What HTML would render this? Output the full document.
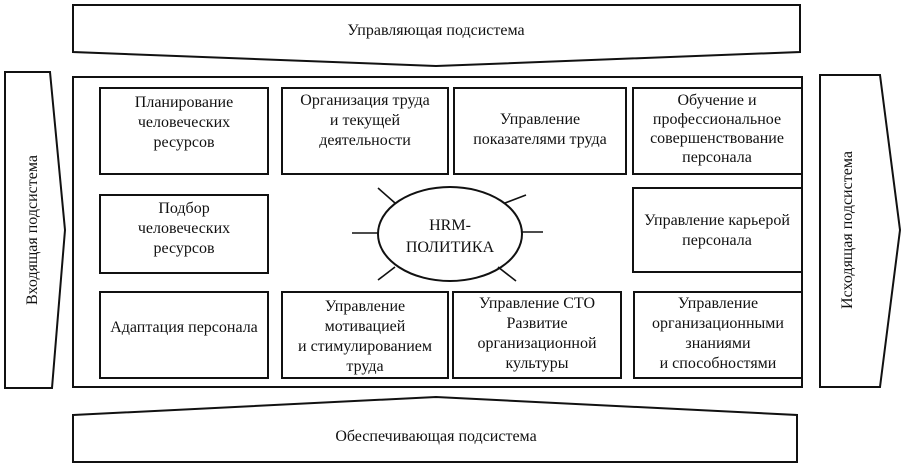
<!DOCTYPE html><html><head><meta charset="utf-8"><style>
body{margin:0;background:#fff;}
svg{display:block}
text{font-family:"Liberation Serif",serif;font-size:16px;fill:#111;text-anchor:middle}
</style></head><body>
<svg width="902" height="465" viewBox="0 0 902 465" stroke="#111" stroke-width="2" fill="none">
<polygon points="73,5 800,5 800,52 436,66 73,52"/>
<polygon points="73,415 436,397 797,415 797,462 73,462"/>
<polygon points="5,72 50,72 65,230 52,388 5,388"/>
<polygon points="820,75 880,75 900,230 880,387 820,387"/>
<rect x="73" y="77" width="729" height="310"/>
<rect x="100" y="88" width="168" height="86"/>
<rect x="282" y="88" width="166" height="86"/>
<rect x="454" y="88" width="172" height="86"/>
<rect x="633" y="88" width="169" height="86"/>
<rect x="100" y="195" width="168" height="78"/>
<rect x="633" y="188" width="169" height="84"/>
<rect x="100" y="292" width="168" height="86"/>
<rect x="282" y="292" width="166" height="86"/>
<rect x="453" y="292" width="168" height="86"/>
<rect x="634" y="292" width="168" height="86"/>
<ellipse cx="450" cy="234" rx="72" ry="47"/>
<g stroke-width="1.6">
<line x1="378" y1="188" x2="395" y2="203"/><line x1="352" y1="233" x2="378" y2="233"/><line x1="378" y1="280" x2="395" y2="267"/>
<line x1="526" y1="195" x2="505" y2="203"/><line x1="543" y1="232" x2="522" y2="232"/><line x1="516" y1="281" x2="498" y2="267"/>
</g>
<g stroke="none">
<text x="436" y="35">Управляющая подсистема</text>
<text x="436" y="441">Обеспечивающая подсистема</text>
<text transform="translate(37,230) rotate(-90)">Входящая подсистема</text>
<text transform="translate(852,230) rotate(-90)">Исходящая подсистема</text>
<text x="184" y="107">Планирование</text><text x="184" y="127">человеческих</text><text x="184" y="147">ресурсов</text>
<text x="365" y="105">Организация труда</text><text x="365" y="125">и текущей</text><text x="365" y="145">деятельности</text>
<text x="540" y="124">Управление</text><text x="540" y="144">показателями труда</text>
<g style="font-size:15px"><text x="717" y="105">Обучение и</text><text x="717" y="124">профессиональное</text><text x="717" y="143">совершенствование</text><text x="717" y="162">персонала</text></g>
<text x="184" y="213">Подбор</text><text x="184" y="233">человеческих</text><text x="184" y="253">ресурсов</text>
<text x="717" y="225">Управление карьерой</text><text x="717" y="245">персонала</text>
<text x="450" y="230">HRM-</text><text x="450" y="252">ПОЛИТИКА</text>
<text x="184" y="332">Адаптация персонала</text>
<text x="365" y="311">Управление</text><text x="365" y="331">мотивацией</text><text x="365" y="351">и стимулированием</text><text x="365" y="371">труда</text>
<text x="537" y="308">Управление СТО</text><text x="537" y="328">Развитие</text><text x="537" y="348">организационной</text><text x="537" y="368">культуры</text>
<text x="718" y="308">Управление</text><text x="718" y="328">организационными</text><text x="718" y="348">знаниями</text><text x="718" y="368">и способностями</text>
</g>
</svg>
</body></html>
